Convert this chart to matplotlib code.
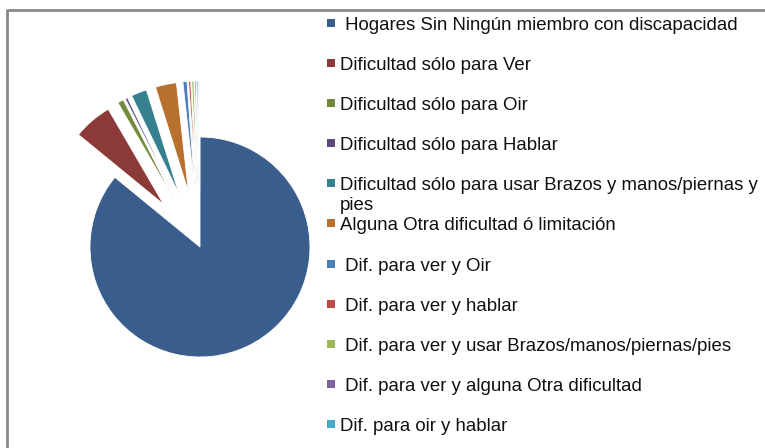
import matplotlib
matplotlib.use("Agg")
import matplotlib.pyplot as plt
from matplotlib.patches import Rectangle

# categories (legend only shows the first 11, the rest are cut off like the original)
labels = [
    " Hogares Sin Ningún miembro con discapacidad",
    "Dificultad sólo para Ver",
    "Dificultad sólo para Oir",
    "Dificultad sólo para Hablar",
    "Dificultad sólo para usar Brazos y manos/piernas y\npies",
    "Alguna Otra dificultad ó limitación",
    " Dif. para ver y Oir",
    " Dif. para ver y hablar",
    " Dif. para ver y usar Brazos/manos/piernas/pies",
    " Dif. para ver y alguna Otra dificultad",
    "Dif. para oir y hablar",
    "Otros",
]
# percentages
values = [86.0, 5.7, 0.9, 0.35, 2.3, 3.1, 0.6, 0.3, 0.3, 0.2, 0.2, 0.15]
colors = ["#3A5E8C", "#8C3A38", "#728A3C", "#5D4A7A", "#35818F", "#B8702F",
          "#4A7EBB", "#BE4B48", "#98B954", "#7D60A0", "#46AAC5", "#F79646"]
n_legend = 11

W, H = 765, 448
R = 110
fig = plt.figure(figsize=(W / 100, H / 100), dpi=100)
ax = fig.add_axes([0, 0, 1, 1])

# explode offsets are in data units here (axes use pixel-like coords)
explode = [0] + [0.51 * R] * (len(values) - 1)
ax.pie(values, colors=colors, explode=explode, startangle=90, counterclock=False,
       radius=R, center=(200, H - 247),
       wedgeprops=dict(edgecolor="white", linewidth=0.6))

# legend drawn by hand to keep Excel's fixed row spacing
font = dict(family=["Liberation Sans", "DejaVu Sans"], size=13.4, color="#111111")
for i in range(n_legend):
    yc = H - (22.7 + 40.15 * i)
    ax.add_patch(Rectangle((327, yc - 4), 8, 8, color=colors[i], lw=0))
    for j, line in enumerate(labels[i].split("\n")):
        ax.text(340, yc - 7 - 19.5 * j, line, va="baseline", ha="left", **font)

# chart border (only top and left visible)
ax.plot([6, W + 5], [H - 10, H - 10], color="#8a8a8a", lw=2, solid_capstyle="butt")
ax.plot([7, 7], [H - 10, -5], color="#8a8a8a", lw=2, solid_capstyle="butt")

ax.set_xlim(0, W)
ax.set_ylim(0, H)
ax.set_aspect("equal")
ax.axis("off")

fig.savefig("out.png", dpi=100)
